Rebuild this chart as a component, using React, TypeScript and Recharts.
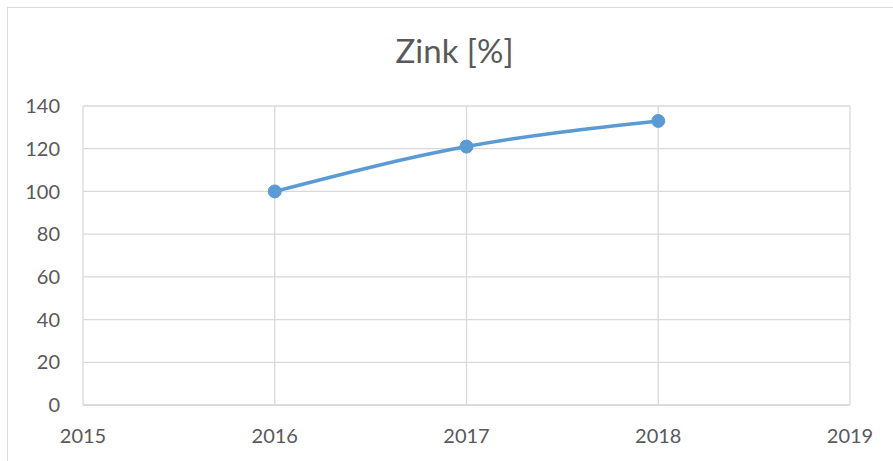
import { LineChart, Line, XAxis, YAxis, CartesianGrid } from "recharts";

const years = [2016, 2017, 2018];
const zinkValues = [100, 121, 133];
const xTicks = [2015, 2016, 2017, 2018, 2019];
const yTicks = [0, 20, 40, 60, 80, 100, 120, 140];

const data = years.map((year, i) => ({ year, zink: zinkValues[i] }));

const tickStyle = { fill: "#595959", fontSize: 20, fontFamily: "Lato" };

export default function App() {
  return (
    <div
      style={{
        position: "absolute",
        left: 7,
        top: 7,
        width: 900,
        height: 470,
        border: "1px solid #d9d9d9",
        background: "#fff",
        overflow: "hidden",
      }}
    >
      <div
        style={{
          position: "absolute",
          left: 0,
          top: 26,
          width: 893,
          textAlign: "center",
          fontFamily: "Lato",
          fontSize: 33,
          color: "#595959",
          lineHeight: "33px",
        }}
      >
        Zink [%]
      </div>
      <LineChart
        width={886}
        height={454}
        data={data}
        margin={{ top: 98, right: 44, left: 0, bottom: 0 }}
      >
        <CartesianGrid stroke="#d9d9d9" strokeWidth={1.3} />
        <XAxis
          dataKey="year"
          type="number"
          domain={[2015, 2019]}
          ticks={xTicks}
          tickLine={false}
          axisLine={{ stroke: "#d9d9d9", strokeWidth: 1.3 }}
          tickSize={6}
          tickMargin={18}
          tick={tickStyle}
          height={57}
        />
        <YAxis
          domain={[0, 140]}
          ticks={yTicks}
          tickLine={false}
          axisLine={false}
          tickSize={6}
          tickMargin={17}
          tick={tickStyle}
          width={75}
        />
        <Line
          dataKey="zink"
          type="monotone"
          stroke="#5b9bd5"
          strokeWidth={3.5}
          dot={{ r: 6.5, fill: "#5b9bd5", stroke: "#5b9bd5", strokeWidth: 1 }}
          isAnimationActive={false}
        />
      </LineChart>
    </div>
  );
}
